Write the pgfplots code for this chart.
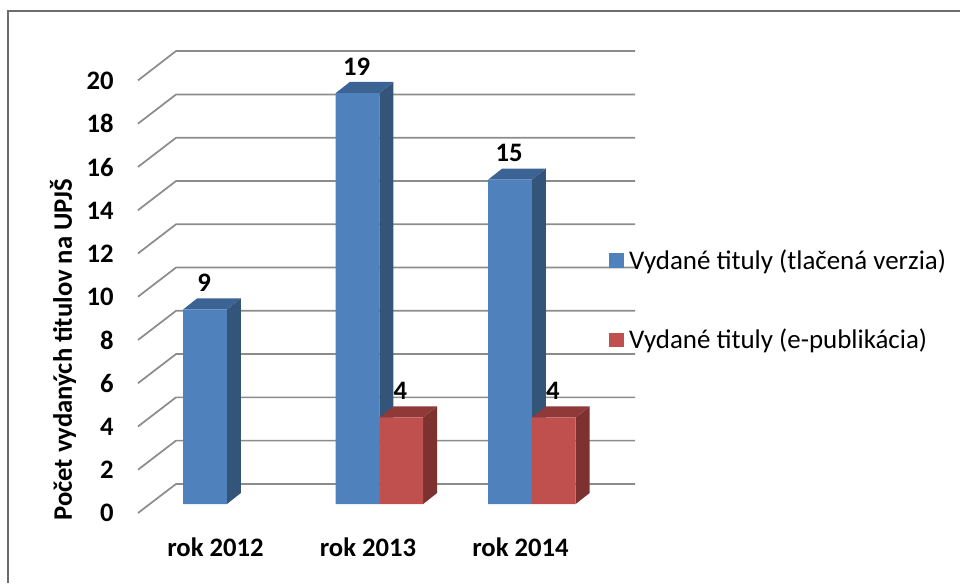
\documentclass[border=0pt]{standalone}
\usepackage{fontspec}
\setmainfont{Carlito}
\usepackage{pgfplots}
\pgfplotsset{compat=1.18}
\definecolor{bluefront}{HTML}{4F81BD}
\definecolor{blueside}{HTML}{335579}
\definecolor{bluetop}{HTML}{3B6494}
\definecolor{redfront}{HTML}{C0504D}
\definecolor{redside}{HTML}{7D3230}
\definecolor{redtop}{HTML}{8F3A38}
\definecolor{gridc}{HTML}{8C8C8C}
\begin{document}
\begin{tikzpicture}
\path[use as bounding box] (0,0) rectangle (720pt,437.25pt);
\draw[color=gray!85!black,line width=1.8pt] (6pt,0pt) -- (6pt,429pt) -- (720pt,429pt);
\begin{axis}[
  at={(103.5pt,52.5pt)},anchor=south west,
  scale only axis,width=372.75pt,height=346.5pt,
  xmin=-0.5832,xmax=2.6756,ymin=-0.416,ymax=20.943,
  clip=false,
  axis line style={draw=none},
  major tick length=0pt,
  tick label style={font=\fontsize{20pt}{24pt}\selectfont\bfseries},
  /pgf/number format/assume math mode=true,
  tick label style={/pgf/number format/assume math mode=true},
  xtick={0,1,2},
  xticklabels={rok 2012,rok 2013,rok 2014},
  ytick={0,2,4,6,8,10,12,14,16,18,20},
  tick label style={inner sep=0pt},
  xticklabel style={anchor=center,xshift=-8.6pt,yshift=-25.5pt},
  yticklabel style={anchor=east,xshift=-18pt,yshift=-6.9pt},
  ylabel={Počet vydaných titulov na UPJŠ},
  y label style={at={(axis description cs:-0.151,0.353)},anchor=center,font=\fontsize{20pt}{24pt}\selectfont\bfseries},
  legend style={at={(0.9474,0.461)},anchor=west,draw=none,fill=none,font=\fontsize{20.2pt}{24pt}\selectfont,
    row sep=43.5pt,inner sep=0pt,outer sep=0pt,nodes={inner xsep=3.75pt,inner ysep=0pt}},
  legend cell align=left,
  legend image code/.code={\path[#1,draw=none] (0pt,-5.5pt) rectangle (11.5pt,5.5pt);},
]
% wall grid lines
\addplot[gridc,line width=1.3pt,forget plot] coordinates {(-0.5832,-0.416)(-0.3342,0.925)(2.6756,0.925)};
\addplot[gridc,line width=1.3pt,forget plot] coordinates {(-0.5832,1.584)(-0.3342,2.93)(2.6756,2.93)};
\addplot[gridc,line width=1.3pt,forget plot] coordinates {(-0.5832,3.584)(-0.3342,4.93)(2.6756,4.93)};
\addplot[gridc,line width=1.3pt,forget plot] coordinates {(-0.5832,5.584)(-0.3342,6.93)(2.6756,6.93)};
\addplot[gridc,line width=1.3pt,forget plot] coordinates {(-0.5832,7.584)(-0.3342,8.93)(2.6756,8.93)};
\addplot[gridc,line width=1.3pt,forget plot] coordinates {(-0.5832,9.584)(-0.3342,10.93)(2.6756,10.93)};
\addplot[gridc,line width=1.3pt,forget plot] coordinates {(-0.5832,11.584)(-0.3342,12.93)(2.6756,12.93)};
\addplot[gridc,line width=1.3pt,forget plot] coordinates {(-0.5832,13.584)(-0.3342,14.93)(2.6756,14.93)};
\addplot[gridc,line width=1.3pt,forget plot] coordinates {(-0.5832,15.584)(-0.3342,16.93)(2.6756,16.93)};
\addplot[gridc,line width=1.3pt,forget plot] coordinates {(-0.5832,17.584)(-0.3342,18.93)(2.6756,18.93)};
\addplot[gridc,line width=1.3pt,forget plot] coordinates {(-0.5832,19.584)(-0.3342,20.94)(2.6756,20.94)};
% blue 3D sides and tops
\addplot[fill=blueside,draw=none,forget plot] coordinates {(0,0)(0.0917,0.51)(0.0917,9.51)(0,9)} --cycle;
\addplot[fill=bluetop,draw=none,forget plot] coordinates {(-0.2865,9)(-0.1948,9.51)(0.0917,9.51)(0,9)} --cycle;
\addplot[fill=blueside,draw=none,forget plot] coordinates {(1,0)(1.0917,0.51)(1.0917,19.51)(1,19)} --cycle;
\addplot[fill=bluetop,draw=none,forget plot] coordinates {(0.7135,19)(0.8052,19.51)(1.0917,19.51)(1,19)} --cycle;
\addplot[fill=blueside,draw=none,forget plot] coordinates {(2,0)(2.0917,0.51)(2.0917,15.51)(2,15)} --cycle;
\addplot[fill=bluetop,draw=none,forget plot] coordinates {(1.7135,15)(1.8052,15.51)(2.0917,15.51)(2,15)} --cycle;
% blue front faces
\addplot[ybar,bar width=32.8pt,bar shift=-16.4pt,fill=bluefront,draw=none,forget plot,
  point meta=y,nodes near coords,
  nodes near coords style={anchor=center,yshift=20pt,xshift=-17.15pt,font=\fontsize{20pt}{24pt}\selectfont\bfseries,
    /pgf/number format/assume math mode=true}]
  coordinates {(0,9)(1,19)(2,15)};
% red 3D sides and tops
\addplot[fill=redside,draw=none,forget plot] coordinates {(1.2865,0)(1.3782,0.51)(1.3782,4.51)(1.2865,4)} --cycle;
\addplot[fill=redtop,draw=none,forget plot] coordinates {(1,4)(1.0917,4.51)(1.3782,4.51)(1.2865,4)} --cycle;
\addplot[fill=redside,draw=none,forget plot] coordinates {(2.2865,0)(2.3782,0.51)(2.3782,4.51)(2.2865,4)} --cycle;
\addplot[fill=redtop,draw=none,forget plot] coordinates {(2,4)(2.0917,4.51)(2.3782,4.51)(2.2865,4)} --cycle;
% red front faces
\addplot[ybar,bar width=32.8pt,bar shift=16.4pt,fill=redfront,draw=none,forget plot,
  point meta=y,nodes near coords,
  nodes near coords style={anchor=center,yshift=20pt,xshift=15.65pt,font=\fontsize{20pt}{24pt}\selectfont\bfseries,
    /pgf/number format/assume math mode=true}]
  coordinates {(1,4)(2,4)};
\addlegendimage{fill=bluefront}
\addlegendentry{Vydané tituly (tlačená verzia)}
\addlegendimage{fill=redfront}
\addlegendentry{Vydané tituly (e-publikácia)}
\end{axis}
\end{tikzpicture}
\end{document}
